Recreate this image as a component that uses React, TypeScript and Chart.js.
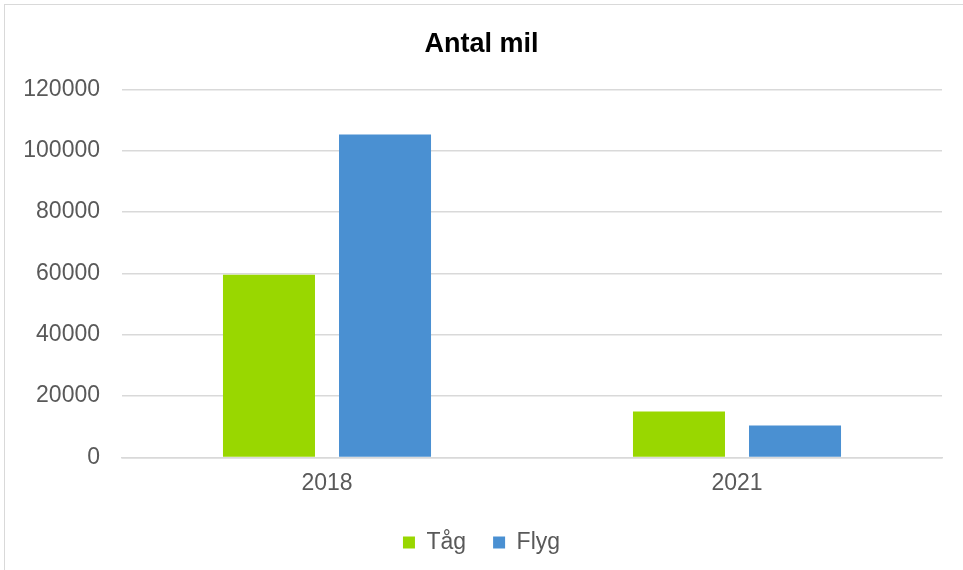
import React, { useEffect, useRef } from "react";
import { Chart, registerables } from "chart.js";

Chart.register(...registerables);

const categories = ["2018", "2021"];
const tagValues = [59600, 15000];
const flygValues = [105300, 10400];
const seriesNames = ["Tåg", "Flyg"];
const seriesColors = ["#99D700", "#4A90D2"];
const yMax = 120000;
const yStep = 20000;
const titleText = "Antal mil";

export default function App() {
  const ref = useRef<HTMLCanvasElement | null>(null);

  useEffect(() => {
    document.body.style.margin = "0";
    const canvas = ref.current;
    if (!canvas) return;
    const chart = new Chart(canvas, {
      type: "bar",
      data: {
        labels: categories,
        datasets: [
          {
            label: seriesNames[0],
            data: tagValues,
            backgroundColor: seriesColors[0],
            borderWidth: 0,
            categoryPercentage: 0.566,
            barPercentage: 0.793,
          },
          {
            label: seriesNames[1],
            data: flygValues,
            backgroundColor: seriesColors[1],
            borderWidth: 0,
            categoryPercentage: 0.566,
            barPercentage: 0.793,
          },
        ],
      },
      options: {
        animation: false,
        responsive: false,
        maintainAspectRatio: false,
        layout: { padding: { left: 21, right: 21, top: 0, bottom: 6 } },
        plugins: {
          title: {
            display: true,
            text: titleText,
            color: "#000000",
            font: { family: "Liberation Sans, Arial, sans-serif", size: 27, weight: "bold" },
            padding: { top: 28, bottom: 29 },
          },
          legend: {
            position: "bottom",
            labels: {
              boxWidth: 12,
              boxHeight: 12,
              padding: 27,
              color: "#595959",
              font: { family: "Liberation Sans, Arial, sans-serif", size: 23 },
            },
          },
          tooltip: { enabled: false },
        },
        scales: {
          x: {
            afterFit: (scale: any) => {
              scale.height = scale.height - 5;
            },
            grid: { display: false, drawTicks: false },
            border: { display: true, color: "#d9d9d9", width: 1.5 },
            ticks: {
              color: "#595959",
              padding: 12,
              font: { family: "Liberation Sans, Arial, sans-serif", size: 23 },
            },
          },
          y: {
            min: 0,
            max: yMax,
            afterFit: (scale: any) => {
              scale.width = 101;
            },
            border: { display: false },
            grid: { color: "#d9d9d9", lineWidth: 1.5, drawTicks: false },
            ticks: {
              stepSize: yStep,
              color: "#595959",
              padding: 22,
              font: { family: "Liberation Sans, Arial, sans-serif", size: 23 },
              callback: (v: any) => String(v),
            },
          },
        },
      },
    });
    return () => chart.destroy();
  }, []);

  return (
    <div style={{ position: "relative", width: 963, height: 570, background: "#fff", overflow: "hidden" }}>
      <div
        style={{
          position: "absolute",
          left: 4,
          top: 4,
          width: 1000,
          height: 600,
          border: "1.5px solid #d9d9d9",
        }}
      />
      <canvas ref={ref} width={963} height={570} style={{ position: "absolute", left: 0, top: 0 }} />
    </div>
  );
}
